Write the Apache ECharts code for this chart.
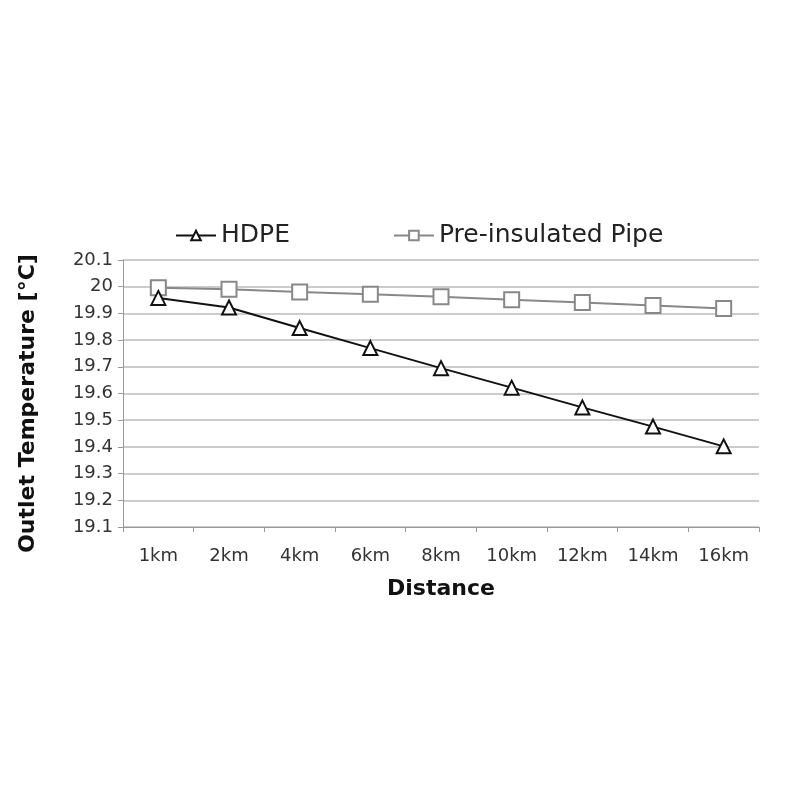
<!DOCTYPE html>
<html><head><meta charset="utf-8">
<script src="https://cdn.jsdelivr.net/npm/echarts@6/dist/echarts.min.js"></script>
<style>html,body{margin:0;padding:0;background:#fff}#c{width:799px;height:796px}</style>
</head><body><div id="c"></div>
<script>
var categories = ['1km','2km','4km','6km','8km','10km','12km','14km','16km'];
var hdpe = [19.958, 19.922, 19.845, 19.77, 19.695, 19.622, 19.548, 19.476, 19.402];
var preInsulated = [19.996, 19.99, 19.98, 19.972, 19.962, 19.951, 19.941, 19.93, 19.918];
var yTicks = [19.1, 20.1, 0.1];

var chart = echarts.init(document.getElementById('c'));
var font = 'DejaVu Sans';
chart.setOption({
  animation: false,
  backgroundColor: '#fff',
  textStyle: {fontFamily: font},
  legend: {
    top: 218, left: 170, itemGap: 103, itemWidth: 40, itemHeight: 12,
    textStyle: {fontSize: 25, color: '#222', fontFamily: font},
    data: ['HDPE', 'Pre-insulated Pipe']
  },
  grid: {left: 123, right: 40, top: 260, bottom: 269},
  xAxis: {
    type: 'category', data: categories, boundaryGap: true,
    axisLine: {lineStyle: {color: '#999', width: 1}},
    axisTick: {show: true, length: 5, lineStyle: {color: '#999'}},
    axisLabel: {fontSize: 18, color: '#333', margin: 20, fontFamily: font},
    name: 'Distance', nameLocation: 'middle', nameGap: 51,
    nameTextStyle: {fontSize: 22, fontWeight: 'bold', color: '#111', fontFamily: font}
  },
  yAxis: {
    type: 'value', min: yTicks[0], max: yTicks[1], interval: yTicks[2],
    axisLine: {show: true, lineStyle: {color: '#999', width: 1}},
    axisTick: {show: true, length: 5, lineStyle: {color: '#999'}},
    splitLine: {show: true, lineStyle: {color: '#bbb', width: 1.5}},
    axisLabel: {fontSize: 18, color: '#333', margin: 10, fontFamily: font,
      formatter: function(v){ return (Math.round(v*10)/10).toString(); }},
    name: 'Outlet Temperature [°C]', nameLocation: 'middle', nameGap: 84, nameRotate: 90,
    nameTextStyle: {fontSize: 22, fontWeight: 'bold', color: '#111', fontFamily: font, padding: [0, 20, 0, 0]}
  },
  series: [
    {
      name: 'HDPE', type: 'line', data: hdpe,
      symbol: 'triangle', symbolSize: 14, showAllSymbol: true,
      lineStyle: {color: '#111', width: 2},
      itemStyle: {color: '#fff', borderColor: '#111', borderWidth: 2},
      z: 3
    },
    {
      name: 'Pre-insulated Pipe', type: 'line', data: preInsulated,
      symbol: 'rect', symbolSize: 15, showAllSymbol: true,
      lineStyle: {color: '#888', width: 2},
      itemStyle: {color: '#fff', borderColor: '#888', borderWidth: 2},
      z: 2
    }
  ]
});
</script></body></html>
